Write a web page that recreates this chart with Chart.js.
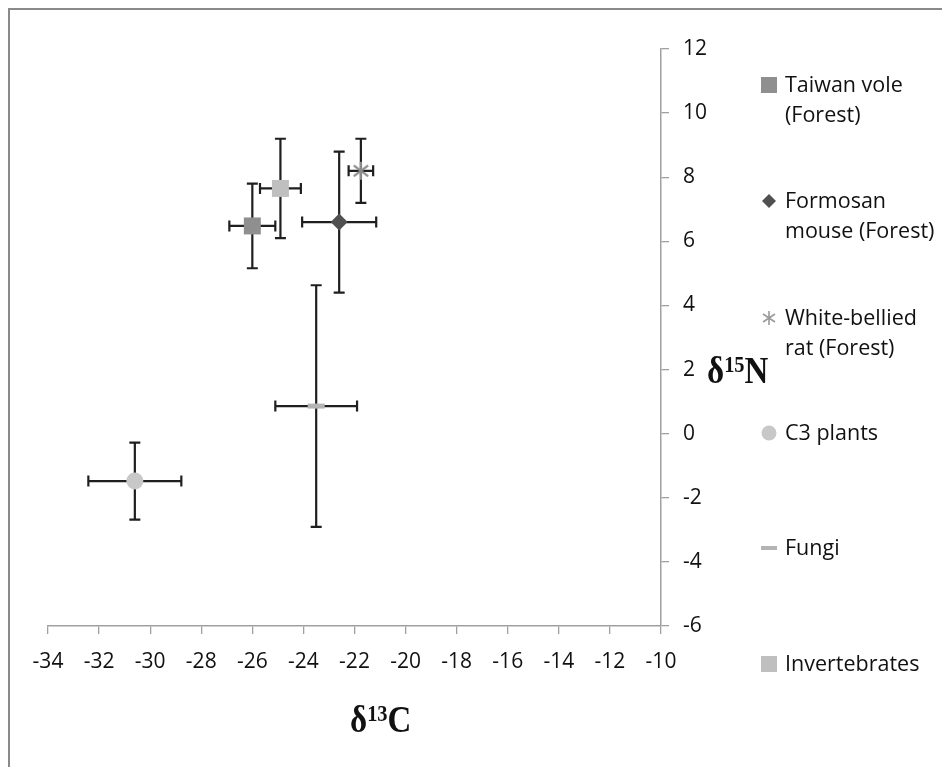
<!DOCTYPE html>
<html>
<head>
<meta charset="utf-8">
<script src="https://cdn.jsdelivr.net/npm/chart.js@4.4.1/dist/chart.umd.min.js"></script>
<style>
  html, body { margin: 0; padding: 0; background: #fff; }
  #wrap { position: relative; width: 942px; height: 767px; overflow: hidden; font-family: "Open Sans", sans-serif; color: #111; }
  #frame { position: absolute; left: 8px; top: 8px; right: -10px; bottom: -10px; border-top: 2px solid #8a8a8a; border-left: 2px solid #8a8a8a; }
  canvas { position: absolute; left: 0; top: 0; }
  .ttl { position: absolute; font-family: "Liberation Serif", "Times New Roman", serif; font-weight: bold; font-size: 33px; line-height: 1; white-space: nowrap; transform: scaleY(1.12); transform-origin: left top; }
  .ttl sup { font-size: 62%; vertical-align: 0.5em; line-height: 0; }
  .leg { position: absolute; left: 785px; font-size: 21.5px; line-height: 30px; white-space: nowrap; }
  .mk { position: absolute; }
</style>
</head>
<body>
<div id="wrap">
  <div id="frame"></div>
  <canvas id="chart" width="942" height="767"></canvas>
  <div class="ttl" style="left:350px; top:702px;">δ<sup>13</sup>C</div>
  <div class="ttl" style="left:707px; top:353px;">δ<sup>15</sup>N</div>
  <div id="legend"></div>
</div>
<script>
// d13C / d15N means with +/- error, one point per group
const groups = ['Taiwan vole (Forest)', 'Formosan mouse (Forest)', 'White-bellied rat (Forest)', 'C3 plants', 'Fungi', 'Invertebrates'];
const d13C = [-26.0, -22.6, -21.75, -30.6, -23.5, -24.9];
const d15N = [6.48, 6.6, 8.2, -1.48, 0.86, 7.65];
const d13CErr = [0.9, 1.45, 0.48, 1.82, 1.6, 0.8];
const d15NErr = [1.32, 2.2, 1.0, 1.2, 3.77, 1.55];
const xTicks = { min: -34, max: -10, step: 2 };
const yTicks = { min: -6, max: 12, step: 2 };

function asteriskMarker(size, color) {
  const c = document.createElement('canvas');
  c.width = size; c.height = size;
  const g = c.getContext('2d');
  const m = size / 2, r = size / 2 - 1;
  g.strokeStyle = color;
  g.lineWidth = 2.2;
  g.beginPath();
  g.moveTo(m, m - r); g.lineTo(m, m + r);
  g.moveTo(m - r * 0.8, m - r * 0.6); g.lineTo(m + r * 0.8, m + r * 0.6);
  g.moveTo(m - r * 0.8, m + r * 0.6); g.lineTo(m + r * 0.8, m - r * 0.6);
  g.stroke();
  return c;
}

const markers = [
  { style: 'rect', radius: 12, bg: '#8f8f8f', border: '#8f8f8f', bw: 0 },
  { style: 'rectRot', radius: 8.5, bg: '#505050', border: '#505050', bw: 0 },
  { style: asteriskMarker(20, '#8c8c8c'), radius: 10, bg: '#8c8c8c', border: '#8c8c8c', bw: 0 },
  { style: 'circle', radius: 8.5, bg: '#c8c8c8', border: '#c8c8c8', bw: 0 },
  { style: 'line', radius: 8.5, bg: '#b4b4b4', border: '#b4b4b4', bw: 5 },
  { style: 'rect', radius: 12, bg: '#bfbfbf', border: '#bfbfbf', bw: 0 }
];

const errorBars = {
  id: 'errorBars',
  beforeDatasetsDraw(chart) {
    const { ctx, scales: { x, y } } = chart;
    const cap = 5.5;
    ctx.save();
    ctx.strokeStyle = '#1f1f1f';
    ctx.lineWidth = 2.2;
    chart.data.datasets.forEach(ds => {
      const p = ds.data[0];
      const cx = x.getPixelForValue(p.x), cy = y.getPixelForValue(p.y);
      const l = x.getPixelForValue(p.x - p.xErr), r = x.getPixelForValue(p.x + p.xErr);
      const t = y.getPixelForValue(p.y + p.yErr), b = y.getPixelForValue(p.y - p.yErr);
      ctx.beginPath();
      ctx.moveTo(l, cy); ctx.lineTo(r, cy);
      ctx.moveTo(l, cy - cap); ctx.lineTo(l, cy + cap);
      ctx.moveTo(r, cy - cap); ctx.lineTo(r, cy + cap);
      ctx.moveTo(cx, t); ctx.lineTo(cx, b);
      ctx.moveTo(cx - cap, t); ctx.lineTo(cx + cap, t);
      ctx.moveTo(cx - cap, b); ctx.lineTo(cx + cap, b);
      ctx.stroke();
    });
    ctx.restore();
  }
};

const datasets = groups.map((name, i) => ({
  label: name,
  data: [{ x: d13C[i], y: d15N[i], xErr: d13CErr[i], yErr: d15NErr[i] }],
  pointStyle: markers[i].style,
  pointRadius: markers[i].radius,
  pointBackgroundColor: markers[i].bg,
  pointBorderColor: markers[i].border,
  pointBorderWidth: markers[i].bw
}));

const tickFont = { family: 'Open Sans', size: 21 };
const axisGrey = '#a0a0a0';

new Chart(document.getElementById('chart'), {
  type: 'scatter',
  data: { datasets },
  options: {
    responsive: false,
    animation: false,
    layout: { padding: { left: 48, top: 49, right: 221, bottom: 81 } },
    plugins: { legend: { display: false }, tooltip: { enabled: false } },
    scales: {
      x: {
        type: 'linear', position: 'bottom', min: xTicks.min, max: xTicks.max,
        ticks: { stepSize: xTicks.step, color: '#111', font: tickFont, padding: 15, maxRotation: 0 },
        grid: { drawOnChartArea: false, drawTicks: true, tickLength: 8, color: axisGrey, lineWidth: 1.3 },
        border: { color: axisGrey, width: 1.5 },
        afterFit: s => { s.height = 60; }
      },
      y: {
        type: 'linear', position: 'right', min: yTicks.min, max: yTicks.max,
        ticks: { stepSize: yTicks.step, color: '#111', font: tickFont, padding: 14 },
        grid: { drawOnChartArea: false, drawTicks: true, tickLength: 8, color: axisGrey, lineWidth: 1.3 },
        border: { color: axisGrey, width: 1.5 },
        afterFit: s => { s.width = 60; }
      }
    }
  },
  plugins: [errorBars]
});

// legend on the right, one block per group
const legendRows = [
  { lines: ['Taiwan vole', '(Forest)'], y: 84 },
  { lines: ['Formosan', 'mouse (Forest)'], y: 200 },
  { lines: ['White-bellied', 'rat (Forest)'], y: 317 },
  { lines: ['C3 plants'], y: 432 },
  { lines: ['Fungi'], y: 547 },
  { lines: ['Invertebrates'], y: 663 }
];
const legendIcons = [
  '<svg width="16" height="16"><rect x="0" y="0" width="16" height="16" fill="#8f8f8f"/></svg>',
  '<svg width="16" height="16"><polygon points="8,1 15,8 8,15 1,8" fill="#505050"/></svg>',
  '<svg width="16" height="16"><path d="M8 1V15M2 4L14 12M2 12L14 4" stroke="#9a9a9a" stroke-width="1.6" fill="none"/></svg>',
  '<svg width="16" height="16"><circle cx="8" cy="8" r="7.5" fill="#c8c8c8"/></svg>',
  '<svg width="16" height="16"><rect x="0" y="6" width="16" height="4" fill="#b4b4b4"/></svg>',
  '<svg width="16" height="16"><rect x="0" y="0" width="16" height="16" fill="#bfbfbf"/></svg>'
];
document.getElementById('legend').innerHTML = legendRows.map((row, i) => `
  <div class="mk" style="left:761px; top:${row.y - 8}px;">${legendIcons[i]}</div>
  <div class="leg" style="top:${row.y - 15}px;">${row.lines.join('<br>')}</div>
`).join('');
</script>
</body>
</html>
